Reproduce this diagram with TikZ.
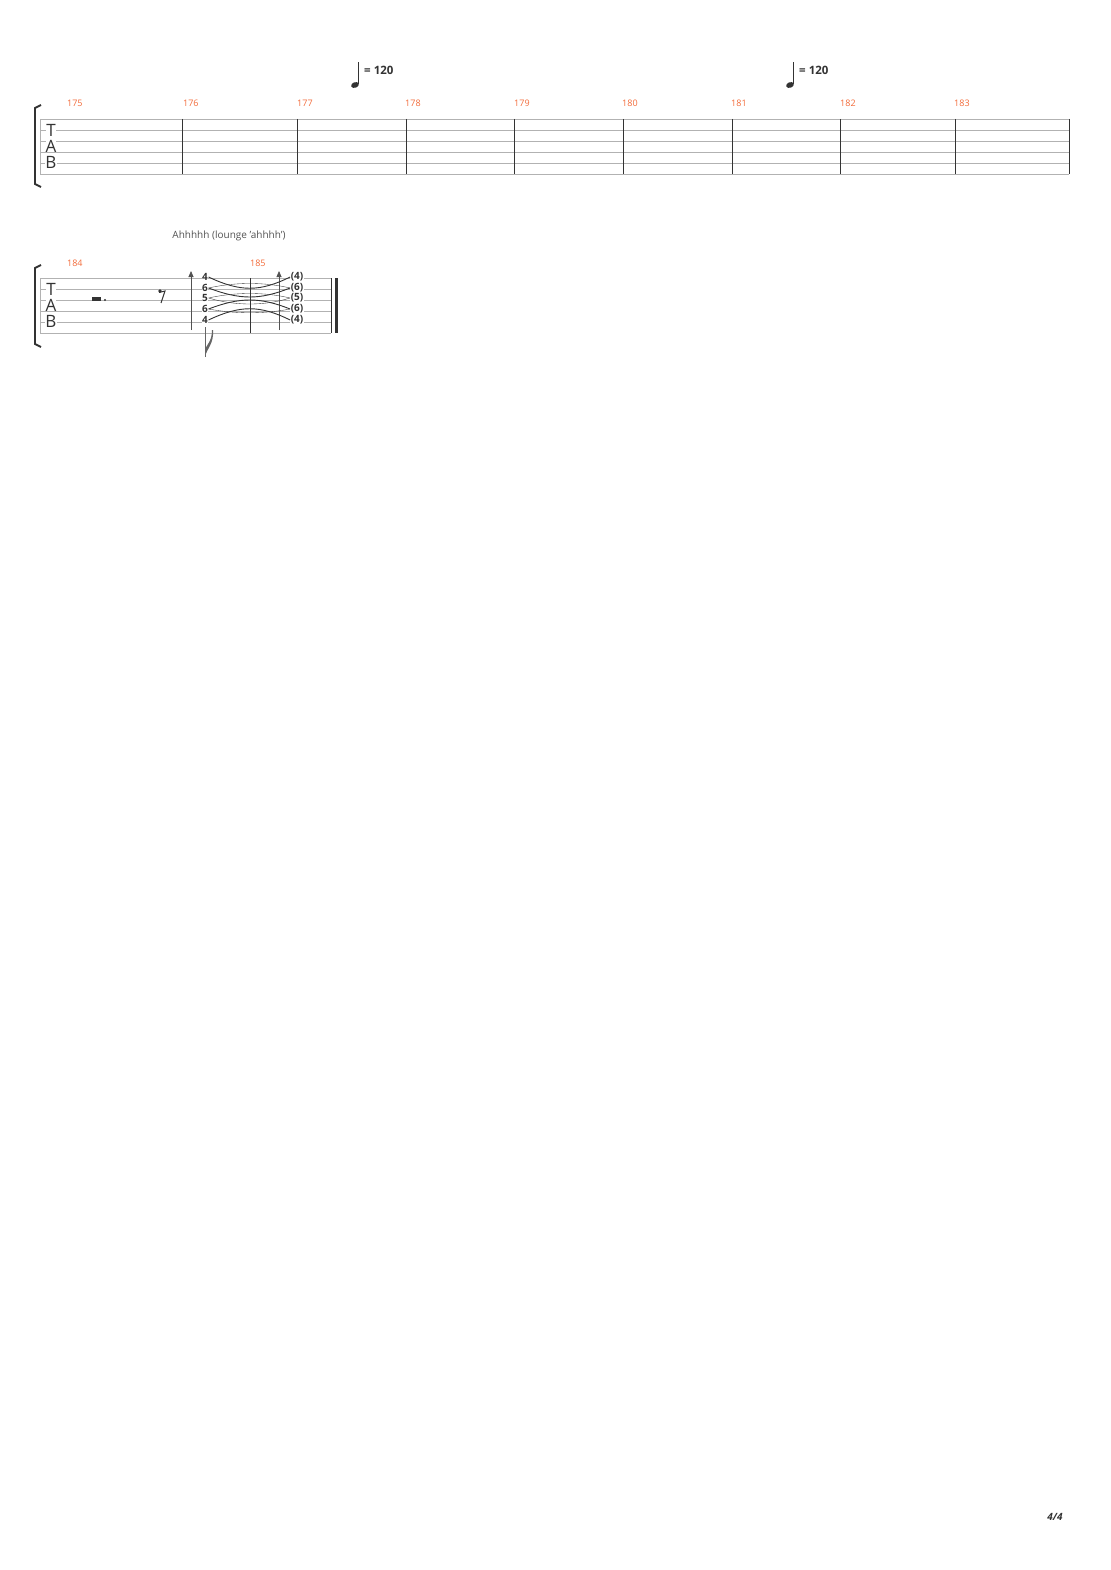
\documentclass[tikz,border=0pt]{standalone}
\usepackage{fontspec}
\setmainfont{Open Sans}
\usepackage{xcolor}
\usetikzlibrary{arrows.meta,positioning}
\definecolor{barno}{HTML}{F26B3A}
\definecolor{ink}{HTML}{333333}
\begin{document}
\begin{tikzpicture}[x=1pt,y=-1pt,
  staffline/.style={draw=black!30, line width=0.6pt},
  barline/.style={draw=ink, line width=0.8pt},
  measno/.style={text=barno, font=\fontsize{9}{10}\selectfont, anchor=west, inner sep=0},
  fret/.style={font=\bfseries\fontsize{10}{8}\selectfont, text=ink, inner sep=0},
  clef/.style={font=\fontsize{17}{17}\selectfont, text=ink, inner sep=0, fill=white},
  tempo/.style={font=\bfseries\fontsize{11.5}{11}\selectfont, text=ink, anchor=west, inner sep=0},
  tiecurve/.style={draw=ink, line width=0.9pt},
  thincurve/.style={draw=ink, line width=0.35pt},
]
\useasboundingbox (0,0) rectangle (1110,1570);
% system 1
\foreach \y in {119,130,...,174} \draw[staffline] (40,\y) -- (1069,\y);
\draw[staffline] (40,119) -- (40,174);
\foreach \x in {182,297,406,514,623,732,840,955,1069} \draw[barline] (\x,119) -- (\x,174);
\foreach \n/\x in {175/67,176/183,177/297,178/405,179/514,180/622,181/731,182/840,183/954}
  \node[measno] (m\n) at (\x,103) {\n};
\draw[ink, line width=1.8pt] (41,105) -- (35,108) -- (35,184) -- (41,187);
\node[clef] (t1) at (51,130) {T};
\node[clef] (a1) at (51,146) {A};
\node[clef] (b1) at (51,162) {B};
% tempo marks
\foreach \x/\k in {355/1,790/2}{
  \fill[ink, rotate around={20:(\x,85)}] (\x,85) ellipse (4 and 2.8);
  \draw[ink, line width=0.8pt] (\x+3.6,84) -- (\x+3.6,62);
  \node[tempo] (tempo\k) at (\x+9,70) {= 120};
}
% system 2
\foreach \y in {278,289,...,333} \draw[staffline] (40,\y) -- (331,\y);
\draw[staffline] (40,278) -- (40,333);
\draw[barline] (250,278) -- (250,333);
\draw[barline] (331,278) -- (331,333);
\draw[ink, line width=3pt] (336.5,278) -- (336.5,333);
\node[measno] (m184) at (67,263) {184};
\node[measno] (m185) at (250,263) {185};
\draw[ink, line width=1.8pt] (41,265) -- (35,268) -- (35,344) -- (41,347);
\node[clef] (t2) at (51,289) {T};
\node[clef] (a2) at (51,305) {A};
\node[clef] (b2) at (51,321) {B};
\node[font=\fontsize{10}{11}\selectfont, text=ink!85] (lyric) at (229,236) {Ahhhhh (lounge 'ahhhh')};
% rests
\fill[ink] (92,297) rectangle (101,301);
\fill[ink] (105,300) circle (1.1);
\fill[ink] (160,291) circle (1.8);
\draw[ink, line width=1pt] (159,292.5) -- (165,291) -- (161,303);
% brush arrows
\foreach \x in {191,279}
  \draw[ink!85, line width=0.8pt, -{Triangle[length=6pt,width=5pt]}] (\x,330) -- (\x,271);
% chord
\foreach \f/\y/\i in {4/277/1,6/288/2,5/298/3,6/309/4,4/320/5}{
  \node[fill=white, fret, inner sep=0.5pt] (c\i) at (205,\y) {\f};
  \node[fill=white, fret, inner sep=0.5pt] (d\i) at (297,\y) {(\f)};
}
\draw[tiecurve] (c1.east) .. controls (240,292) and (260,292) .. (d1.west);
\draw[tiecurve] (c2.east) .. controls (240,300) and (260,300) .. (d2.west);
\draw[thincurve] (c3.east) .. controls (235,292) and (265,292) .. (d3.west);
\draw[thincurve] (c3.east) .. controls (235,306) and (265,306) .. (d3.west);
\draw[tiecurve] (c4.east) .. controls (240,297) and (260,297) .. (d4.west);
\draw[tiecurve] (c5.east) .. controls (240,305) and (260,305) .. (d5.west);
\draw[thincurve] (c2.east) .. controls (235,282) and (265,282) .. (d2.west);
\draw[thincurve] (c4.east) .. controls (235,314) and (265,314) .. (d4.west);
% stem with flag
\draw[ink!75, line width=0.9pt] (205,327) -- (205,357);
\fill[ink!75] (205,357) .. controls (207,348) and (214,344) .. (213,330) -- (212,330) .. controls (212,342) and (206,345) .. (205,350) -- cycle;
% page number
\node[font=\bfseries\itshape\fontsize{10}{10}\selectfont, text=ink] (page) at (1055,1517) {4/4};
\end{tikzpicture}
\end{document}
